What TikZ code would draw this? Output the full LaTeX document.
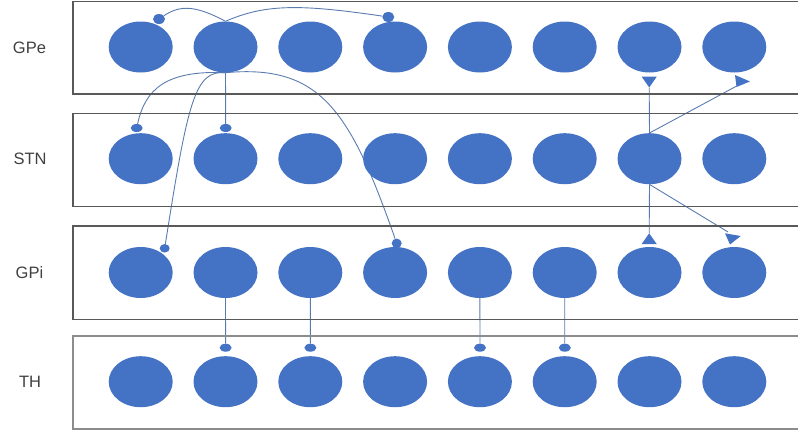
\documentclass[tikz,border=0pt]{standalone}
\usepackage{fontspec}
\setmainfont{Liberation Sans}
\usetikzlibrary{shapes.geometric}
\definecolor{cellblue}{HTML}{4472C4}
\definecolor{wireblue}{HTML}{5A7BAF}
\definecolor{labelgray}{HTML}{404040}
\pgfdeclarelayer{wires}
\pgfsetlayers{wires,main}
\tikzset{
  layerbox/.style={draw=black!65, line width=1.2pt},
  cell/.style={ellipse, fill=cellblue, draw=none, inner sep=0pt,
               minimum width=64pt, minimum height=51pt},
  syn/.style={ellipse, fill=cellblue, draw=none, inner sep=0pt,
              minimum width=11pt, minimum height=9pt},
  wire/.style={draw=wireblue, line width=0.9pt},
  tip/.style={fill=cellblue},
  lbl/.style={font=\fontsize{16.5pt}{18pt}\selectfont, text=labelgray, anchor=center}
}
\begin{document}
\begin{tikzpicture}[x=1pt, y=-1pt]
\useasboundingbox (0,0) rectangle (798,432);
\clip (0,0) rectangle (798,432);

% layer frames (open to the right)
\draw[layerbox] (73,1.5) rectangle (820,94);
\draw[layerbox] (73,113.3) rectangle (820,206.3);
\draw[layerbox] (73,226) rectangle (820,319.3);
\draw[layerbox, draw=black!45, line width=1.5pt] (73,336) rectangle (820,429);

% layer labels
\node[lbl] (lGPe) at (29.5,48) {GPe};
\node[lbl] (lSTN) at (30,159) {STN};
\node[lbl] (lGPi) at (29.5,272.5) {GPi};
\node[lbl] (lTH)  at (30,381.5) {TH};

% neurons
\foreach \i in {1,...,8} {
  \pgfmathsetmacro{\cx}{140.7+84.8*(\i-1)}
  \node[cell] (e\i) at (\cx,47)    {};
  \node[cell] (s\i) at (\cx,158.7) {};
  \node[cell] (p\i) at (\cx,272.5) {};
  \node[cell] (t\i) at (\cx,381.7) {};
}

% inhibitory synapse terminals
\node[syn, minimum width=12pt, minimum height=10pt] (gA) at (159,19) {};
\node[syn, minimum width=12pt, minimum height=10pt] (gB) at (388.3,17) {};
\node[syn, minimum width=12pt, minimum height=8pt] (sA) at (136.7,128) {};
\node[syn, minimum width=12pt, minimum height=8pt] (sB) at (225.7,128) {};
\node[syn, minimum width=10pt, minimum height=8.5pt] (pA) at (164.7,248.3) {};
\node[syn, minimum width=10pt, minimum height=9.5pt] (pB) at (396.7,243.3) {};
\node[syn, minimum width=12pt, minimum height=8pt] (hA) at (225.6,347.7) {};
\node[syn, minimum width=12pt, minimum height=8pt] (hB) at (310.4,347.7) {};
\node[syn, minimum width=12pt, minimum height=8pt] (hC) at (480,347.7) {};
\node[syn, minimum width=12pt, minimum height=8pt] (hD) at (564.8,347.7) {};

% excitatory arrow ends
\coordinate (xA) at (649.2,87.5);
\coordinate (xB) at (736.7,86);
\coordinate (xC) at (649.2,233.3);
\coordinate (xD) at (728,232);

\begin{pgfonlayer}{wires}
  % GPe collaterals
  \draw[wire] (gA) .. controls (180,5) and (195,5) .. (e2.north);
  \draw[wire] (e2.north) .. controls (265,4) and (300,4) .. (gB);
  % GPe -> STN
  \draw[wire] (e2.south) -- (sB);
  \draw[wire] (e2.south) .. controls (165,70) and (145,90) .. (sA);
  % GPe -> GPi
  \draw[wire] (e2.south) .. controls (195,70) and (188,100) .. (pA);
  \draw[wire] (e2.south) .. controls (320,64) and (350,110) .. (pB);
  % STN projections
  \draw[wire] (s7.north) -- (xA);
  \draw[wire] (s7.north) -- (xB);
  \draw[wire] (s7.south) -- (xC);
  \draw[wire] (s7.south) -- (xD);
  % GPi -> TH
  \draw[wire] (p2.south) -- (hA);
  \draw[wire] (p3.south) -- (hB);
  \draw[wire] (p5.south) -- (hC);
  \draw[wire] (p6.south) -- (hD);
\end{pgfonlayer}

% triangular heads
\fill[tip] (xA) -- ++(-7.5,-10.8) -- ++(15,0) -- cycle;
\fill[tip] (735,75) -- (750,81.5) -- (736.5,87) -- cycle;
\fill[tip] (xC) -- ++(-7.5,10.7) -- ++(15,0) -- cycle;
\fill[tip] (725,233.3) -- (740.7,236) -- (730,244.5) -- cycle;
\end{tikzpicture}
\end{document}
